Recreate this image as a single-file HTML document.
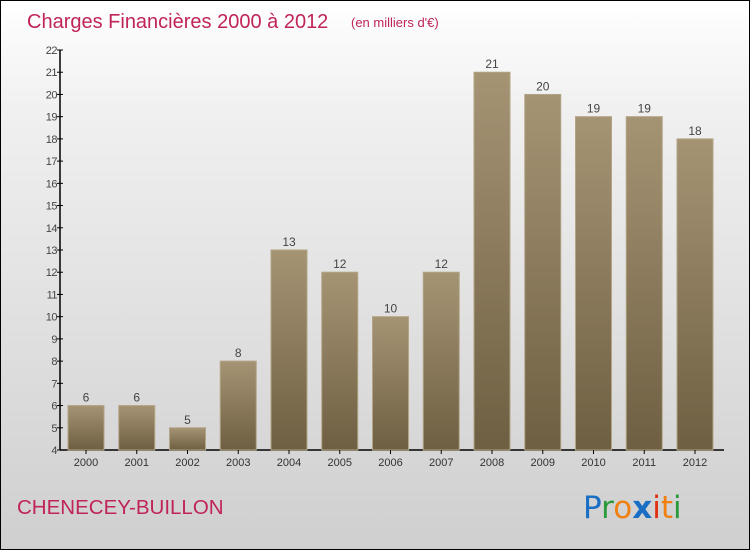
<!DOCTYPE html>
<html><head><meta charset="utf-8"><style>
body{margin:0;width:750px;height:550px;overflow:hidden;font-family:"Liberation Sans",sans-serif}
#wrap{position:relative;width:748px;height:548px;border:1px solid #000;background:linear-gradient(#ffffff,#f0f0f0 20%,#cfcfcf)}
</style></head><body>
<div id="wrap">
<svg id="chart" width="748" height="548">
<defs><linearGradient id="bg" x1="0" y1="0" x2="0" y2="1"><stop offset="0" stop-color="#a59474"/><stop offset="1" stop-color="#6f5f42"/></linearGradient></defs>
<text x="26" y="27" font-size="20" fill="#c0245a">Charges Financières 2000 à 2012</text>
<text x="350" y="26" font-size="13" fill="#c0245a">(en milliers d'€)</text>
<text x="16" y="513" font-size="20.5" fill="#c0245a">CHENECEY-BUILLON</text>
<g font-size="31" font-family="'DejaVu Sans',sans-serif">
<text x="582" y="517"><tspan fill="#1a6fc4">P</tspan><tspan fill="#2a9a3a">r</tspan><tspan fill="#f08010">o</tspan><tspan fill="#1a6fc4" font-weight="bold">x</tspan><tspan fill="#e03010">i</tspan><tspan fill="#f08010">t</tspan><tspan fill="#2a9a3a">i</tspan></text>
</g>
<g id="plot"></g>
</svg>
</div>
<script>
const categories=["2000","2001","2002","2003","2004","2005","2006","2007","2008","2009","2010","2011","2012"];
const values=[6,6,5,8,13,12,10,12,21,20,19,19,18];
const yTicks=[4,5,6,7,8,9,10,11,12,13,14,15,16,17,18,19,20,21,22];
const NS="http://www.w3.org/2000/svg";
const g=document.getElementById('plot');
const yMin=4,yMax=22,y0=449,y1=49,axisX=59;
function y(v){return y0-(v-yMin)/(yMax-yMin)*(y0-y1);}
function x(i){return 85+i*50.75;}
function mk(t,a,p){const e=document.createElementNS(NS,t);for(const k in a)e.setAttribute(k,a[k]);(p||g).appendChild(e);return e;}
let ax=mk('line',{x1:axisX,y1:y1,x2:axisX,y2:y0,stroke:'#000','stroke-width':1.5});


let bx=mk('line',{x1:axisX,y1:y0,x2:723,y2:y0,stroke:'#000','stroke-width':1.5});


yTicks.forEach(v=>{
 mk('line',{x1:axisX-3,y1:y(v),x2:axisX+3,y2:y(v),stroke:'#000'});
 const t=mk('text',{x:axisX-3,y:y(v)+4,'text-anchor':'end','font-size':11,fill:'#444','letter-spacing':'-0.5'});
 t.textContent=v;
 
 
});
categories.forEach((c,i)=>{
 const cx=x(i),w=36;
 const r=mk('rect',{x:cx-w/2,y:y(values[i]),width:w,height:y0-y(values[i]),fill:'url(#bg)',stroke:'#b3a486','stroke-width':1});
 
 
 const vl=mk('text',{x:cx,y:y(values[i])-4,'text-anchor':'middle','font-size':12,fill:'#444'});
 vl.textContent=values[i];
 
 
 mk('line',{x1:cx,y1:y0,x2:cx,y2:y0+4,stroke:'#000'});
 const xl=mk('text',{x:cx,y:y0+16,'text-anchor':'middle','font-size':11,fill:'#333'});
 xl.textContent=c;
 
 
});
</script>
</body></html>
